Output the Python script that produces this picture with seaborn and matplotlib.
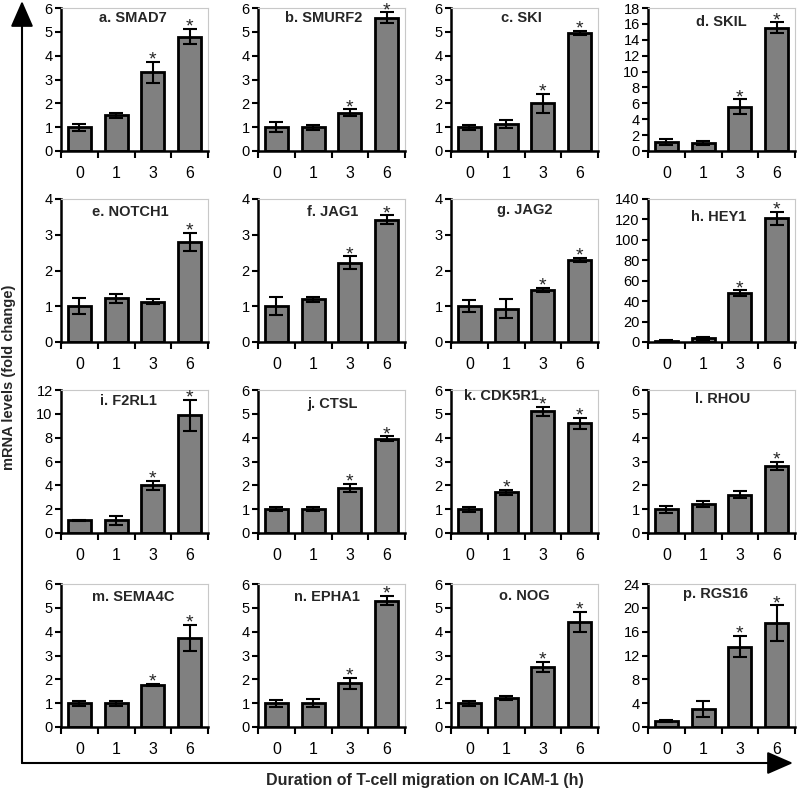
import matplotlib
matplotlib.use('Agg')
import matplotlib.pyplot as plt
import seaborn as sns
import numpy as np
import pandas as pd
from matplotlib.patches import FancyArrowPatch

# Time points (h)
times = ['0', '1', '3', '6']

# Panel titles
genes = ['a. SMAD7', 'b. SMURF2', 'c. SKI', 'd. SKIL',
         'e. NOTCH1', 'f. JAG1', 'g. JAG2', 'h. HEY1',
         'i. F2RL1', 'j. CTSL', 'k. CDK5R1', 'l. RHOU',
         'm. SEMA4C', 'n. EPHA1', 'o. NOG', 'p. RGS16']

# Mean fold change per time point
means = [[1.0, 1.5, 3.3, 4.8], [1.0, 1.0, 1.6, 5.6], [1.0, 1.12, 2.0, 4.95], [1.1, 1.0, 5.6, 15.5],
         [1.0, 1.22, 1.12, 2.8], [1.0, 1.2, 2.22, 3.42], [1.0, 0.93, 1.45, 2.3], [1.0, 3.5, 48.0, 121.0],
         [1.05, 1.05, 4.0, 9.9], [1.0, 1.0, 1.88, 3.95], [1.0, 1.7, 5.1, 4.6], [1.0, 1.22, 1.6, 2.82],
         [1.0, 1.0, 1.77, 3.73], [1.0, 1.0, 1.83, 5.3], [1.0, 1.22, 2.52, 4.4], [1.0, 3.0, 13.5, 17.4]]

# Error bar half-lengths
errs = [[0.15, 0.1, 0.45, 0.32], [0.22, 0.1, 0.15, 0.22], [0.1, 0.17, 0.4, 0.1], [0.35, 0.3, 0.9, 0.7],
        [0.22, 0.13, 0.07, 0.25], [0.25, 0.07, 0.18, 0.12], [0.17, 0.27, 0.06, 0.06], [0.5, 1.5, 2.5, 6.5],
        [0.05, 0.35, 0.4, 1.3], [0.08, 0.08, 0.17, 0.1], [0.1, 0.1, 0.2, 0.22], [0.15, 0.12, 0.15, 0.18],
        [0.1, 0.1, 0.05, 0.55], [0.15, 0.17, 0.22, 0.2], [0.1, 0.07, 0.22, 0.42], [0.2, 1.3, 1.8, 3.0]]

# Index of time points marked significant (*)
stars = [[2, 3], [2, 3], [2, 3], [2, 3],
         [3], [2, 3], [2, 3], [2, 3],
         [2, 3], [2, 3], [1, 2, 3], [3],
         [2, 3], [2, 3], [2, 3], [2, 3]]

# y axis max and tick step
ymax = [6, 6, 6, 18, 4, 4, 4, 140, 12, 6, 6, 6, 6, 6, 6, 24]
ystep = [1, 1, 1, 2, 1, 1, 1, 20, 2, 1, 1, 1, 1, 1, 1, 4]

# title placement inside each panel (axes fraction)
title_x = [0.49, 0.45, 0.48, 0.5, 0.47, 0.51, 0.5, 0.48,
           0.46, 0.51, 0.34, 0.51, 0.49, 0.47, 0.5, 0.46]
title_y = [0.93, 0.93, 0.93, 0.9, 0.91, 0.91, 0.92, 0.875,
           0.92, 0.9, 0.96, 0.94, 0.91, 0.91, 0.915, 0.93]

sns.set_theme(style='ticks')
plt.rcParams['font.family'] = ['Liberation Sans', 'DejaVu Sans']

W, H = 800, 789
fig = plt.figure(figsize=(W / 100, H / 100), dpi=100)

col_left = [61, 258, 451, 648]
row_bottom = [151, 342, 533, 727]
ax_w, ax_h = 147, 143

for i, gene in enumerate(genes):
    r, c = divmod(i, 4)
    ax = fig.add_axes([col_left[c] / W, 1 - row_bottom[r] / H, ax_w / W, ax_h / H])
    df = pd.DataFrame({'time': times, 'fold': means[i]})
    sns.barplot(data=df, x='time', y='fold', color='#808080', saturation=1,
                edgecolor='black', linewidth=2, width=0.63, errorbar=None, ax=ax)
    ax.errorbar(range(4), means[i], yerr=errs[i], fmt='none', ecolor='black',
                elinewidth=1.5, capsize=5, capthick=1.5, zorder=5)
    for j in stars[i]:
        ax.annotate('*', (j, means[i][j] + errs[i][j]), xytext=(0, -2),
                    textcoords='offset points', ha='center', va='baseline',
                    fontsize=14, annotation_clip=False)

    ax.set_xlim(-0.5, 3.5)
    ax.set_ylim(0, ymax[i])
    ax.set_yticks(np.arange(0, ymax[i] + 0.01, ystep[i]))
    ax.set_xticks([-0.5, 0.5, 1.5, 2.5, 3.5], minor=True)
    ax.tick_params(axis='y', direction='out', length=4, width=1.5, color='black',
                   labelsize=10.5, pad=2, labelcolor='black')
    ax.tick_params(axis='x', which='major', length=0, labelsize=11.5, pad=11, labelcolor='black')
    ax.tick_params(axis='x', which='minor', direction='out', length=5, width=1.5, color='black')
    ax.set_xlabel('')
    ax.set_ylabel('')

    for s in ['left', 'bottom']:
        ax.spines[s].set_color('black')
        ax.spines[s].set_linewidth(1.8)
    for s in ['top', 'right']:
        ax.spines[s].set_visible(True)
        ax.spines[s].set_color('#c8c8c8')
        ax.spines[s].set_linewidth(0.8)

    ax.text(title_x[i], title_y[i], gene, transform=ax.transAxes, ha='center', va='center',
            fontsize=10.5, fontweight='bold')

# Outer L-shaped axes with arrows
corner = (22 / W, 1 - 763 / H)
style = '-|>,head_length=0.8,head_width=0.35'
fig.add_artist(FancyArrowPatch(corner, (22 / W, 1 - 1 / H), transform=fig.transFigure,
                               arrowstyle=style, mutation_scale=20, color='black',
                               lw=1.5, shrinkA=0, shrinkB=0))
fig.add_artist(FancyArrowPatch(corner, (793 / W, 1 - 763 / H), transform=fig.transFigure,
                               arrowstyle=style, mutation_scale=20, color='black',
                               lw=1.5, shrinkA=0, shrinkB=0))

fig.text(9 / W, 1 - 377 / H, 'mRNA levels (fold change)', rotation=90, ha='center', va='center',
         fontsize=10.5, fontweight='bold')
fig.text(425 / W, 1 - 781 / H, 'Duration of T-cell migration on ICAM-1 (h)', ha='center', va='center',
         fontsize=11.5, fontweight='bold')

fig.savefig('out.png', dpi=100)
